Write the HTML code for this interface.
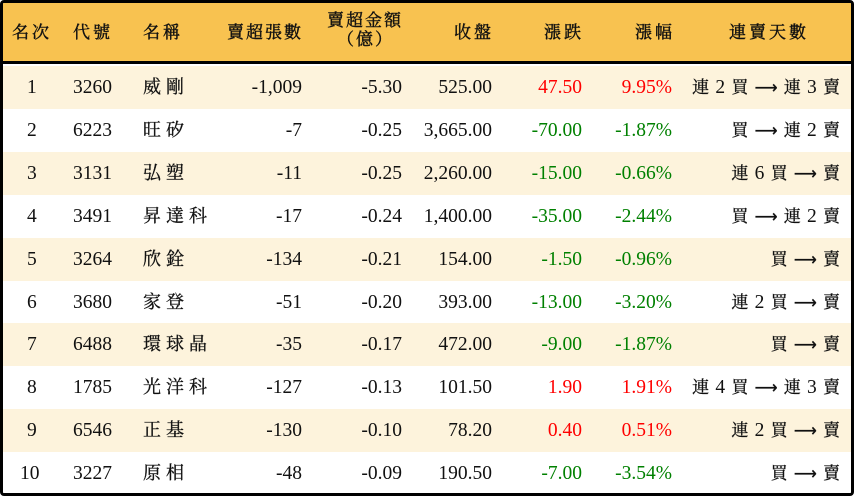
<!DOCTYPE html>
<html><head><meta charset="utf-8"><style>
*{margin:0;padding:0;box-sizing:border-box}
body{width:854px;height:496px;background:#fff;font-family:"Liberation Serif","Noto Serif CJK SC",serif;color:#111;overflow:hidden}
#w{position:absolute;left:0;top:0;width:854px;height:496px;border:3px solid #000;border-radius:4px;overflow:hidden}
.hd{position:absolute;left:0;top:0;width:848px;height:61px;background:#f8c250;border-bottom:3px solid #000}
.r{position:absolute;left:0;width:848px;height:43px}
.c{position:absolute;top:0;line-height:43px;font-size:19.5px;white-space:nowrap}
.k{font-size:18px;letter-spacing:5px;-webkit-text-stroke:0.3px #111}
.h{position:absolute;font-size:17px;letter-spacing:3px;white-space:nowrap;line-height:19px;-webkit-text-stroke:0.4px #111}
.R{color:#f00}.G{color:#008000}
.l{font-size:17px;letter-spacing:1px;-webkit-text-stroke:0.3px #111}
.a{font-size:16px}
.n{font-size:19.5px;-webkit-text-stroke:0}
</style></head><body><div id="w">
<div class="hd">
<div class="h" style="left:9px;top:20px">名次</div>
<div class="h" style="left:70px;top:20px">代號</div>
<div class="h" style="left:140px;top:20px">名稱</div>
<div class="h" style="left:224px;top:20px;letter-spacing:2px">賣超張數</div>
<div class="h" style="left:324px;top:8px;letter-spacing:2px">賣超金額</div>
<div class="h" style="left:334px;top:27px;letter-spacing:2px">（億）</div>
<div class="h" style="left:451px;top:20px">收盤</div>
<div class="h" style="left:541px;top:20px">漲跌</div>
<div class="h" style="left:632px;top:20px">漲幅</div>
<div class="h" style="left:726px;top:20px">連賣天數</div>
</div>
<div id="rows"></div>
</div>
<script>
const d=[["1","3260","威剛","-1,009","-5.30","525.00","47.50","9.95%","連 2 買 → 連 3 賣","R"],
["2","6223","旺矽","-7","-0.25","3,665.00","-70.00","-1.87%","買 → 連 2 賣","G"],
["3","3131","弘塑","-11","-0.25","2,260.00","-15.00","-0.66%","連 6 買 → 賣","G"],
["4","3491","昇達科","-17","-0.24","1,400.00","-35.00","-2.44%","買 → 連 2 賣","G"],
["5","3264","欣銓","-134","-0.21","154.00","-1.50","-0.96%","買 → 賣","G"],
["6","3680","家登","-51","-0.20","393.00","-13.00","-3.20%","連 2 買 → 賣","G"],
["7","6488","環球晶","-35","-0.17","472.00","-9.00","-1.87%","買 → 賣","G"],
["8","1785","光洋科","-127","-0.13","101.50","1.90","1.91%","連 4 買 → 連 3 賣","R"],
["9","6546","正基","-130","-0.10","78.20","0.40","0.51%","連 2 買 → 賣","R"],
["10","3227","原相","-48","-0.09","190.50","-7.00","-3.54%","買 → 賣","G"]];
let h="";
d.forEach((r,i)=>{
const top=63+i*42.9;
const last=r[8].split(" ").map(t=>t=="→"?'<span class="a">⟶</span>':(/\d/.test(t)?'<span class="n">'+t+'</span>':t)).join(" ");
h+=`<div class="r" style="top:${top}px;background:${i%2==0?'#fdf3dc':'#fff'}">
<div class="c" style="left:${r[0].length>1?17:24}px">${r[0]}</div>
<div class="c" style="left:70px">${r[1]}</div>
<div class="c k" style="left:140px">${r[2]}</div>
<div class="c" style="right:549px">${r[3]}</div>
<div class="c" style="right:449px">${r[4]}</div>
<div class="c" style="right:359px">${r[5]}</div>
<div class="c ${r[9]}" style="right:269px">${r[6]}</div>
<div class="c ${r[9]}" style="right:179px">${r[7]}</div>
<div class="c l" style="right:10px">${last}</div></div>`;});
document.getElementById("rows").innerHTML=h;
</script>
</body></html>
